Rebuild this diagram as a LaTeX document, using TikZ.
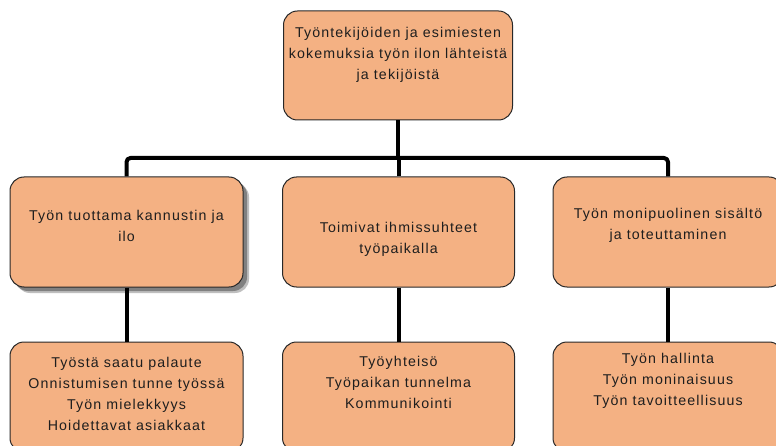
\documentclass[tikz,border=0pt]{standalone}
\usepackage{fontspec}
\setmainfont{Liberation Sans}[LetterSpace=8]
\definecolor{boxfill}{RGB}{244,177,131}
\definecolor{boxline}{RGB}{40,40,40}
\definecolor{txt}{RGB}{30,30,30}
\begin{document}
\begin{tikzpicture}[x=1pt,y=-1pt,
  card/.style={draw=boxline, line width=1pt, fill=boxfill, rounded corners=14pt,
    minimum width=#1, minimum height=110pt, inner sep=0pt},
  shade box/.style={fill=#1, rounded corners=14pt, minimum width=233pt,
    minimum height=110pt, inner sep=0pt},
  lbl/.style={font=\fontsize{14.2}{21}\selectfont, align=center, text=txt, inner sep=0pt},
  link/.style={line width=4pt, draw=black, line join=round, rounded corners=4pt}]
\useasboundingbox (0,0) rectangle (776,446);
\fill[white] (0,0) rectangle (776,446);
\clip (0,0) rectangle (776,446);

% soft drop shadow behind the first category box
\node[shade box=black!25] (m1s2) at (132.5,238) {};
\node[shade box=black!50] (m1s1) at (130.5,236) {};

% boxes
\node[card=229pt, minimum height=109pt] (top) at (398,65.5) {};
\node[card=233pt] (m1) at (126.5,232) {};
\node[card=232pt] (m2) at (398.5,232) {};
\node[card=230pt] (m3) at (668,232) {};
\node[card=233pt] (b1) at (126.5,397) {};
\node[card=232pt] (b2) at (398.5,397) {};
\node[card=230pt] (b3) at (668,397) {};

% connectors
\coordinate (bus) at (398,158);
\draw[link] (top.south) -- (bus);
\draw[link] (m1.north) |- (bus) -| (m3.north);
\draw[link] (m2.north) -- (m2.north |- bus);
\draw[link] (m1.south) -- (b1.north);
\draw[link] (m2.south) -- (b2.north);
\draw[link] (m3.south) -- (b3.north);

% texts
\node[lbl] (t0) at (398,54.5) {Työntekijöiden ja esimiesten\\kokemuksia työn ilon lähteistä\\ja tekijöistä};
\node[lbl] (t1) at (126.5,226) {Työn tuottama kannustin ja\\ilo};
\node[lbl] (t2) at (398.5,239) {Toimivat ihmissuhteet\\työpaikalla};
\node[lbl] (t3) at (668,225) {Työn monipuolinen sisältö\\ja toteuttaminen};
\node[lbl] (u1) at (126.5,393.5) {Työstä saatu palaute\\Onnistumisen tunne työssä\\Työn mielekkyys\\Hoidettavat asiakkaat};
\node[lbl] (u2) at (398.5,382) {Työyhteisö\\Työpaikan tunnelma\\Kommunikointi};
\node[lbl] (u3) at (668,381) {Työn hallinta\\Työn moninaisuus\\Työn tavoitteellisuus};
\end{tikzpicture}
\end{document}
